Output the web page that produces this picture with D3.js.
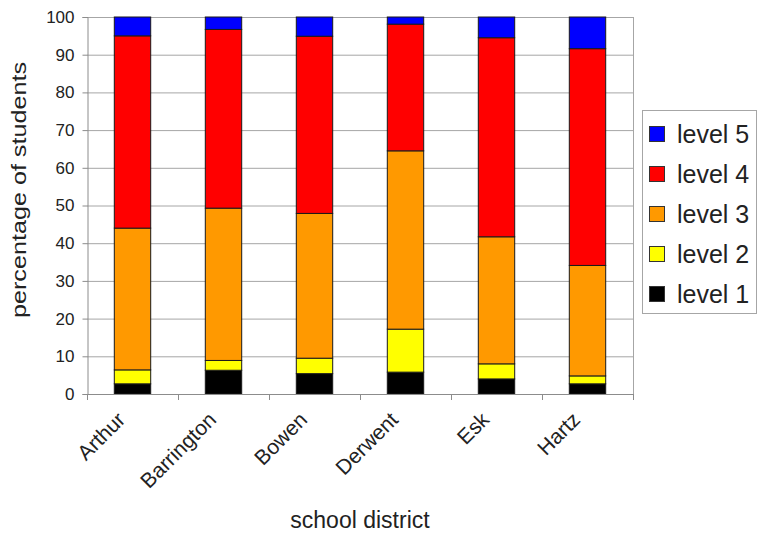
<!DOCTYPE html>
<html>
<head>
<meta charset="utf-8">
<script src="https://cdn.jsdelivr.net/npm/d3@7"></script>
<style>
  html, body { margin: 0; padding: 0; background: #fff; }
  svg { display: block; font-family: "Liberation Sans", Arial, sans-serif; }
</style>
</head>
<body>
<svg id="chart" width="758" height="535"></svg>
<script>
// School districts and the share of students at each achievement level (%)
const districts = ["Arthur", "Barrington", "Bowen", "Derwent", "Esk", "Hartz"];
const levels = ["level 1", "level 2", "level 3", "level 4", "level 5"];
const level1 = [2.7, 6.3, 5.4, 5.8, 4.0, 2.7];
const level2 = [3.7, 2.6, 4.1, 11.4, 4.0, 2.1];
const level3 = [37.6, 40.4, 38.4, 47.3, 33.7, 29.3];
const level4 = [51.0, 47.4, 47.0, 33.6, 52.8, 57.5];
const level5 = [5.0, 3.3, 5.1, 1.9, 5.5, 8.4];
const yTicks = [0, 10, 20, 30, 40, 50, 60, 70, 80, 90, 100];
const levelColors = ["#000000", "#FFFF00", "#FF9900", "#FF0000", "#0000FF"];

const series = [level1, level2, level3, level4, level5];
const rows = districts.map((d, i) => {
  const r = { district: d };
  levels.forEach((l, j) => { r[l] = series[j][i]; });
  return r;
});

const svg = d3.select("#chart");
const plot = { left: 87, right: 633, top: 17, bottom: 394 };

const x = d3.scaleBand().domain(districts)
  .range([plot.left, plot.right]).paddingInner(0.6).paddingOuter(0.3);
const y = d3.scaleLinear().domain([0, 100]).range([plot.bottom, plot.top]);
const color = d3.scaleOrdinal().domain(levels).range(levelColors);

// gridlines
svg.append("g")
  .selectAll("line").data(yTicks.filter(t => t > 0)).join("line")
  .attr("x1", plot.left).attr("x2", plot.right)
  .attr("y1", d => y(d) + 0.5).attr("y2", d => y(d) + 0.5)
  .attr("stroke", "#a6a6a6").attr("stroke-width", 1);

// right border of plot area
svg.append("line")
  .attr("x1", plot.right + 0.5).attr("x2", plot.right + 0.5)
  .attr("y1", plot.top).attr("y2", plot.bottom)
  .attr("stroke", "#a6a6a6");

// stacked bars
const stack = d3.stack().keys(levels)(rows);
svg.append("g")
  .selectAll("g").data(stack).join("g")
  .attr("fill", d => color(d.key))
  .selectAll("rect").data(d => d).join("rect")
  .attr("x", d => x(d.data.district))
  .attr("width", x.bandwidth())
  .attr("y", d => y(d[1]))
  .attr("height", d => y(d[0]) - y(d[1]))
  .attr("stroke", "#1a1a1a").attr("stroke-width", 1);

// y axis
const yAxis = svg.append("g")
  .attr("transform", `translate(${plot.left + 0.5},0)`)
  .call(d3.axisLeft(y).tickValues(yTicks).tickSize(5).tickPadding(8));
yAxis.selectAll("path, line").attr("stroke", "#8c8c8c");
yAxis.selectAll("text").attr("font-size", 17).attr("fill", "#222")
  .attr("font-family", "Liberation Sans, Arial, sans-serif");

// x axis: ticks sit between categories
const boundaries = d3.range(districts.length + 1)
  .map(i => plot.left + i * (plot.right - plot.left) / districts.length);
const xg = svg.append("g");
xg.append("line")
  .attr("x1", plot.left).attr("x2", plot.right)
  .attr("y1", plot.bottom + 0.5).attr("y2", plot.bottom + 0.5)
  .attr("stroke", "#8c8c8c");
xg.selectAll("line.tick").data(boundaries).join("line")
  .attr("class", "tick")
  .attr("x1", d => Math.round(d) + 0.5).attr("x2", d => Math.round(d) + 0.5)
  .attr("y1", plot.bottom).attr("y2", plot.bottom + 6)
  .attr("stroke", "#8c8c8c");
xg.selectAll("text").data(districts).join("text")
  .attr("transform", d => `translate(${x(d) + x.bandwidth() / 2 - 6},${plot.bottom + 27}) rotate(-45)`)
  .attr("text-anchor", "end")
  .attr("font-size", 21).attr("fill", "#222")
  .text(d => d);

// axis titles
svg.append("text")
  .attr("transform", `translate(26,190) rotate(-90)`)
  .attr("text-anchor", "middle").attr("font-size", 20).attr("fill", "#222")
  .attr("textLength", 256).attr("lengthAdjust", "spacingAndGlyphs")
  .text("percentage of students");
svg.append("text")
  .attr("x", 360).attr("y", 528)
  .attr("text-anchor", "middle").attr("font-size", 23).attr("fill", "#222")
  .text("school district");

// legend, highest level first
const legend = svg.append("g");
legend.append("rect")
  .attr("x", 642.5).attr("y", 110.5).attr("width", 114).attr("height", 203)
  .attr("fill", "#fff").attr("stroke", "#a6a6a6");
const items = legend.selectAll("g.item").data(levels.slice().reverse()).join("g")
  .attr("class", "item")
  .attr("transform", (d, i) => `translate(649,${134 + i * 40})`);
items.append("rect")
  .attr("x", 0.5).attr("y", -7.5).attr("width", 15).attr("height", 15)
  .attr("fill", d => color(d)).attr("stroke", "#333");
items.append("text")
  .attr("x", 28).attr("y", 8.5)
  .attr("font-size", 25).attr("fill", "#222")
  .text(d => d);
</script>
</body>
</html>
